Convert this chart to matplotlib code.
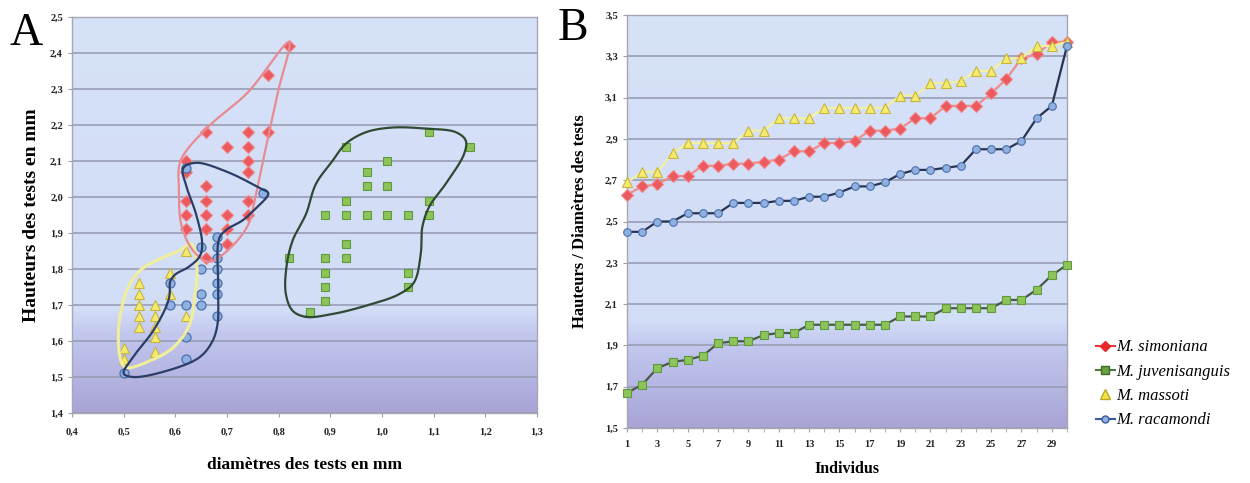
import numpy as np
import matplotlib
matplotlib.use('Agg')
import matplotlib.pyplot as plt
from matplotlib.ticker import FuncFormatter, MultipleLocator
from matplotlib.colors import LinearSegmentedColormap
from matplotlib.lines import Line2D

plt.rcParams['font.family'] = ['Liberation Serif', 'DejaVu Serif']

# ---- panel A : scatter (diameter, height) ----
simo_x = [0.82, 0.78, 0.66, 0.74, 0.78, 0.70, 0.74, 0.74, 0.62, 0.62, 0.74, 0.66,
          0.62, 0.66, 0.74, 0.62, 0.66, 0.70, 0.74, 0.62, 0.66, 0.70, 0.70, 0.66]
simo_y = [2.42, 2.34, 2.18, 2.18, 2.18, 2.14, 2.14, 2.10, 2.10, 2.07, 2.07, 2.03,
          1.99, 1.99, 1.99, 1.95, 1.95, 1.95, 1.95, 1.91, 1.91, 1.91, 1.87, 1.83]

juv_x = [1.09, 1.17, 0.93, 1.01, 0.97, 0.97, 1.01, 0.93, 1.09, 0.89, 0.93, 0.97, 1.01,
         1.05, 1.09, 0.93, 0.93, 0.89, 0.89, 0.89, 0.89, 1.05, 1.05, 0.86, 0.82]
juv_y = [2.18, 2.14, 2.14, 2.10, 2.07, 2.03, 2.03, 1.99, 1.99, 1.95, 1.95, 1.95, 1.95,
         1.95, 1.95, 1.87, 1.83, 1.83, 1.79, 1.75, 1.71, 1.79, 1.75, 1.68, 1.83]

mass_x = [0.62, 0.59, 0.59, 0.53, 0.53, 0.53, 0.53, 0.53, 0.56, 0.56, 0.56, 0.56, 0.56,
          0.62, 0.50, 0.50]
mass_y = [1.85, 1.79, 1.73, 1.76, 1.73, 1.70, 1.67, 1.64, 1.70, 1.67, 1.64, 1.61, 1.57,
          1.67, 1.58, 1.55]

raca_x = [0.62, 0.77, 0.65, 0.68, 0.68, 0.68, 0.65, 0.68, 0.68, 0.59, 0.65, 0.68, 0.59,
          0.62, 0.65, 0.68, 0.62, 0.62, 0.50]
raca_y = [2.08, 2.01, 1.86, 1.89, 1.86, 1.83, 1.80, 1.80, 1.76, 1.76, 1.73, 1.73, 1.70,
          1.70, 1.70, 1.67, 1.61, 1.55, 1.51]

# hand drawn envelopes (closed outlines)
simo_env = [(0.61, 2.10), (0.66, 2.19), (0.74, 2.29), (0.82, 2.43), (0.80, 2.30),
            (0.78, 2.17), (0.755, 2.00), (0.74, 1.92), (0.70, 1.85), (0.665, 1.82),
            (0.635, 1.85), (0.612, 1.92), (0.607, 2.02)]
raca_env = [(0.615, 2.08), (0.64, 2.095), (0.70, 2.07), (0.763, 2.025), (0.78, 2.01),
            (0.757, 1.97), (0.73, 1.935), (0.70, 1.91), (0.685, 1.885), (0.683, 1.75),
            (0.682, 1.65), (0.672, 1.60), (0.647, 1.555), (0.583, 1.517), (0.518, 1.50),
            (0.50, 1.51), (0.518, 1.555), (0.557, 1.628), (0.583, 1.698), (0.589, 1.73),
            (0.590, 1.765), (0.60, 1.785), (0.625, 1.805), (0.647, 1.835), (0.652, 1.87),
            (0.64, 1.953), (0.622, 2.027)]
mass_env = [(0.496, 1.54), (0.49, 1.63), (0.506, 1.74), (0.531, 1.795), (0.57, 1.828),
            (0.608, 1.851), (0.631, 1.87), (0.642, 1.80), (0.637, 1.72), (0.628, 1.647),
            (0.596, 1.582), (0.551, 1.545), (0.506, 1.526)]
juv_env = [(0.853, 1.667), (0.904, 1.675), (0.969, 1.698), (1.033, 1.73), (1.062, 1.763),
           (1.075, 1.842), (1.078, 1.916), (1.091, 1.972), (1.123, 2.036), (1.159, 2.12),
           (1.162, 2.157), (1.143, 2.18), (1.085, 2.19), (1.02, 2.193), (0.969, 2.18),
           (0.93, 2.148), (0.904, 2.10), (0.872, 2.036), (0.853, 1.953), (0.827, 1.879),
           (0.815, 1.805), (0.814, 1.73), (0.827, 1.684)]

# ---- panel B : ratio height / diameter, sorted ----
individus = list(range(1, 31))
simo_r = [2.63, 2.67, 2.68, 2.72, 2.72, 2.77, 2.77, 2.78, 2.78, 2.79, 2.80, 2.84, 2.84,
          2.88, 2.88, 2.89, 2.94, 2.94, 2.95, 3.00, 3.00, 3.06, 3.06, 3.06, 3.12, 3.19,
          3.29, 3.31, 3.37, 3.37]
juv_r = [1.67, 1.71, 1.79, 1.82, 1.83, 1.85, 1.91, 1.92, 1.92, 1.95, 1.96, 1.96, 2.00,
         2.00, 2.00, 2.00, 2.00, 2.00, 2.04, 2.04, 2.04, 2.08, 2.08, 2.08, 2.08, 2.12,
         2.12, 2.17, 2.24, 2.29]
mass_r = [2.69, 2.74, 2.74, 2.83, 2.88, 2.88, 2.88, 2.88, 2.94, 2.94, 3.00, 3.00, 3.00,
          3.05, 3.05, 3.05, 3.05, 3.05, 3.11, 3.11, 3.17, 3.17, 3.18, 3.23, 3.23, 3.29,
          3.29, 3.35, 3.35, 3.37]
raca_r = [2.45, 2.45, 2.50, 2.50, 2.54, 2.54, 2.54, 2.59, 2.59, 2.59, 2.60, 2.60, 2.62,
          2.62, 2.64, 2.67, 2.67, 2.69, 2.73, 2.75, 2.75, 2.76, 2.77, 2.85, 2.85, 2.85,
          2.89, 3.00, 3.06, 3.35]

names = ['M. simoniana', 'M. juvenisanguis', 'M. massoti', 'M. racamondi']

# styles
red_fc, red_ec, red_ln = '#ec5a60', '#f08a8a', '#f08c8c'
grn_fc, grn_ec, grn_ln = '#8cc45a', '#5f9a3c', '#4a5a48'
yel_fc, yel_ec, yel_ln = '#f4ea6c', '#c8b440', '#f2f0a0'
blu_fc, blu_ec, blu_ln = '#90b0e0', '#4a70b0', '#2a3450'


def closed_curve(pts, n=24, sx=5.18, sy=3.59):
    # centripetal catmull-rom through the outline points (scaled to ~screen units)
    p = np.array(pts, dtype=float) * [sx, sy]
    m = len(p)
    out = []
    for i in range(m):
        P0, P1, P2, P3 = p[(i - 1) % m], p[i], p[(i + 1) % m], p[(i + 2) % m]
        t0 = 0.0
        t1 = t0 + np.linalg.norm(P1 - P0) ** 0.5
        t2 = t1 + np.linalg.norm(P2 - P1) ** 0.5
        t3 = t2 + np.linalg.norm(P3 - P2) ** 0.5
        t = np.linspace(t1, t2, n, endpoint=False)[:, None]
        A1 = (t1 - t) / (t1 - t0) * P0 + (t - t0) / (t1 - t0) * P1
        A2 = (t2 - t) / (t2 - t1) * P1 + (t - t1) / (t2 - t1) * P2
        A3 = (t3 - t) / (t3 - t2) * P2 + (t - t2) / (t3 - t2) * P3
        B1 = (t2 - t) / (t2 - t0) * A1 + (t - t0) / (t2 - t0) * A2
        B2 = (t3 - t) / (t3 - t1) * A2 + (t - t1) / (t3 - t1) * A3
        out.append((t2 - t) / (t2 - t1) * B1 + (t - t1) / (t2 - t1) * B2)
    out.append(p[:1])
    c = np.vstack(out) / [sx, sy]
    return c[:, 0], c[:, 1]


bg = LinearSegmentedColormap.from_list('bg', [(0, '#d6e2f8'), (0.74, '#d2ddf6'),
                                              (0.80, '#c2c8ee'), (1, '#a8a4d6')])


def style_axes(ax, xlim, ylim):
    grad = np.linspace(0, 1, 256)[:, None]
    ax.imshow(grad, cmap=bg, aspect='auto', extent=(xlim[0], xlim[1], ylim[0], ylim[1]),
              origin='upper', zorder=0, interpolation='bilinear')
    ax.set_xlim(xlim)
    ax.set_ylim(ylim)
    ax.set_axisbelow(True)
    ax.yaxis.grid(True, color='#9a9db4', lw=1.2)
    for s in ax.spines.values():
        s.set_color('#a6a6b4')
        s.set_linewidth(1.0)
    ax.tick_params(axis='both', colors='#a0a0a0', labelcolor='#222222', length=3,
                   labelsize=7.5, direction='out')


comma = FuncFormatter(lambda v, pos: ('%.1f' % v).replace('.', ','))

fig = plt.figure(figsize=(12.5, 4.83), dpi=100)

# ---------------- panel A ----------------
axA = fig.add_axes([0.0576, 0.1449, 0.372, 0.8199])
axA.set_xticks(np.round(np.arange(0.4, 1.31, 0.1), 1))
axA.set_yticks(np.round(np.arange(1.4, 2.51, 0.1), 1))
axA.xaxis.set_major_formatter(comma)
axA.yaxis.set_major_formatter(comma)
style_axes(axA, (0.4, 1.3), (1.4, 2.5))
axA.tick_params(axis='x', pad=8)

axA.plot(simo_x, simo_y, ls='none', marker='D', ms=5.8, mfc=red_fc, mec=red_ec, mew=0.8, zorder=3)
axA.plot(juv_x, juv_y, ls='none', marker='s', ms=6, mfc=grn_fc, mec=grn_ec, mew=0.8, zorder=3)
axA.plot(mass_x, mass_y, ls='none', marker='^', ms=7, mfc=yel_fc, mec=yel_ec, mew=0.8, zorder=3)
axA.plot(raca_x, raca_y, ls='none', marker='o', ms=6.5, mfc=blu_fc, mec=blu_ec, mew=0.9, zorder=3)

cx, cy = closed_curve(mass_env)
axA.plot(cx, cy, color='#f0ee9a', lw=2.2, zorder=4)
cx, cy = closed_curve(simo_env)
axA.plot(cx, cy, color='#e88a92', lw=1.6, zorder=4)
cx, cy = closed_curve(raca_env)
axA.plot(cx, cy, color='#2c3e66', lw=1.6, zorder=5)
cx, cy = closed_curve(juv_env)
axA.plot(cx, cy, color='#2f4a34', lw=1.6, zorder=5)

axA.set_xlabel('diamètres des tests en mm', fontsize=12.5, fontweight='bold', labelpad=14)
axA.set_ylabel('Hauteurs des tests en mm', fontsize=14, fontweight='bold', labelpad=7)
fig.text(0.008, 0.975, 'A', fontsize=33, va='top', ha='left')

# ---------------- panel B ----------------
axB = fig.add_axes([0.5016, 0.1139, 0.352, 0.855])
axB.set_xticks(list(range(1, 30, 2)))
axB.xaxis.set_minor_locator(MultipleLocator(1))
axB.set_yticks(np.round(np.arange(1.5, 3.51, 0.2), 1))
axB.yaxis.set_major_formatter(comma)
style_axes(axB, (1, 30), (1.5, 3.5))
axB.tick_params(axis='x', which='minor', colors='#a0a0a0', length=3)
axB.tick_params(axis='x', pad=6)

axB.plot(individus, simo_r, color=red_ln, lw=1.6, marker='D', ms=5.8, mfc=red_fc, mec=red_ec,
         mew=0.8, clip_on=False, zorder=3, label=names[0])
axB.plot(individus, juv_r, color=grn_ln, lw=1.6, marker='s', ms=5.8, mfc=grn_fc, mec=grn_ec,
         mew=0.8, clip_on=False, zorder=3, label=names[1])
axB.plot(individus, mass_r, color=yel_ln, lw=1.6, marker='^', ms=7, mfc=yel_fc, mec=yel_ec,
         mew=0.8, clip_on=False, zorder=3, label=names[2])
axB.plot(individus, raca_r, color=blu_ln, lw=1.6, marker='o', ms=5.5, mfc=blu_fc, mec=blu_ec,
         mew=0.8, clip_on=False, zorder=3, label=names[3])

axB.set_xlabel('Individus', fontsize=11.5, fontweight='bold', labelpad=8)
axB.set_ylabel('Hauteurs / Diamètres des tests', fontsize=12, fontweight='bold', labelpad=12)
fig.text(0.446, 0.985, 'B', fontsize=33, va='top', ha='left')

for ax in (axA, axB):
    for lab in ax.get_xticklabels() + ax.get_yticklabels():
        lab.set_fontweight('bold')

handles = [
    Line2D([], [], color='#e03a3a', lw=1.5, marker='D', ms=5.5, mfc='#e82828', mec='#e82828'),
    Line2D([], [], color='#4f7a38', lw=1.5, marker='s', ms=5.5, mfc='#6aa040', mec='#3e6a2a'),
    Line2D([], [], color='none', lw=1.5, marker='^', ms=7, mfc='#f0e640', mec='#b8a830'),
    Line2D([], [], color='#3a5aa0', lw=1.5, marker='o', ms=5, mfc='#8fb0e0', mec='#3a5aa0'),
]
leg = fig.legend(handles, names, loc='center left', bbox_to_anchor=(0.865, 0.205),
                 frameon=False, handlelength=1.1, handletextpad=0.1, labelspacing=0.5,
                 prop={'family': 'Liberation Serif', 'style': 'italic', 'size': 12})

fig.savefig('out.png', dpi=100)
